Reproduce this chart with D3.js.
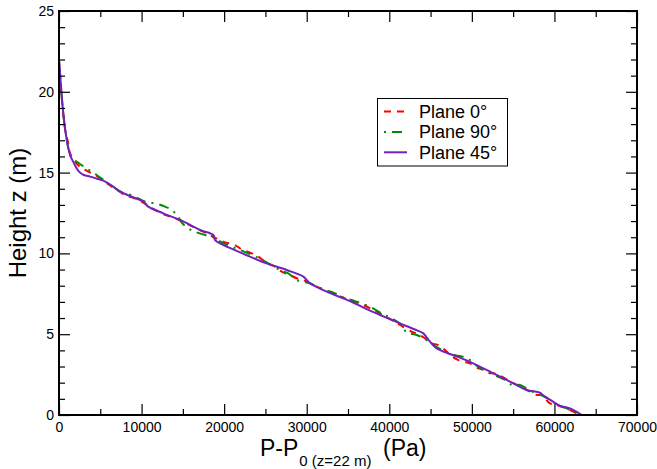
<!DOCTYPE html>
<html>
<head>
<meta charset="utf-8">
<script src="https://cdn.jsdelivr.net/npm/d3@7"></script>
<style>
  html, body { margin: 0; padding: 0; background: #fff; }
  svg { display: block; }
</style>
</head>
<body>
<svg id="chart" width="657" height="469"></svg>
<script>
// ---- data ----
const seriesNames = ["Plane 0\u00B0", "Plane 90\u00B0", "Plane 45\u00B0"];

// Plane 0° (red, dashed)
const p0 = [0, 363, 810, 1130, 1330, 1940, 2540, 3550, 4570, 5500, 6500, 7390, 8000, 9200, 10000, 11020, 11630, 12840, 14050, 16000, 18290, 19500, 20300, 21300, 22130, 23340, 24140, 24950, 26160, 26970, 27980, 28790, 29590, 30400, 30800, 32620, 34640, 36850, 38480, 40290, 41300, 42710, 43320, 44330, 45140, 45940, 46750, 47360, 48370, 49770, 50790, 51190, 52000, 53000, 54220, 55500, 56640, 57860, 58450, 59460, 60280, 61890, 62700, 63500];
const z0 = [22, 19.5, 17.45, 16.8, 16.2, 15.68, 15.36, 15.06, 14.79, 14.45, 14.1, 13.82, 13.6, 13.4, 13.2, 12.89, 12.69, 12.38, 12.17, 11.7, 11.14, 10.8, 10.66, 10.52, 10.25, 10.0, 9.8, 9.49, 9.18, 8.87, 8.66, 8.46, 8.35, 8.15, 8.04, 7.63, 7.22, 6.81, 6.39, 5.88, 5.57, 5.15, 5.05, 4.74, 4.44, 4.33, 4.02, 3.71, 3.40, 3.2, 2.89, 2.83, 2.62, 2.54, 2.2, 1.85, 1.55, 1.24, 1.24, 0.72, 0.62, 0.31, 0.1, 0];

// Plane 90° (green, dash-dot)
const p90 = [0, 363, 810, 1370, 1640, 2500, 3350, 4560, 5500, 6600, 7500, 8800, 9600, 10500, 11630, 12840, 13640, 14400, 14860, 15660, 16470, 17680, 18490, 18890, 20000, 22000, 24000, 25350, 26360, 27000, 27770, 28790, 30400, 31200, 32500, 33430, 34640, 35440, 37660, 39080, 40290, 41710, 42000, 42510, 43320, 44330, 45140, 46500, 48000, 48970, 49770, 50990, 51600, 52200, 53500, 54420, 54830, 55840, 56240, 57500, 58850, 59460, 60500, 61480, 62300, 63300];
const z90 = [22, 19.5, 17.45, 16.05, 15.88, 15.55, 15.26, 14.85, 14.5, 14.1, 13.8, 13.6, 13.4, 13.2, 13.1, 12.89, 12.69, 12.3, 11.9, 11.55, 11.34, 11.14, 11.03, 10.93, 10.6, 10.2, 9.75, 9.38, 9.08, 8.9, 8.77, 8.35, 8.15, 7.94, 7.7, 7.53, 7.22, 7.12, 6.7, 6.29, 5.98, 5.47, 5.15, 5.05, 4.95, 4.7, 4.4, 4.0, 3.7, 3.6, 3.4, 2.9, 2.78, 2.58, 2.3, 2.06, 1.86, 1.86, 1.75, 1.4, 1.13, 0.93, 0.6, 0.41, 0.2, 0];

// Plane 45° (purple, solid)
const p45 = [0, 150, 363, 600, 810, 1100, 1370, 1817, 2422, 3000, 3754, 4600, 5369, 6576, 7387, 9000, 10210, 10815, 12630, 14654, 17076, 18690, 18890, 19500, 21100, 23130, 25150, 27570, 29590, 30400, 32420, 35240, 37260, 38880, 41300, 43300, 44120, 44930, 45740, 46950, 48570, 50590, 52610, 55030, 56640, 58250, 58650, 59860, 60680, 61890, 63300];
const z45 = [22, 21, 19.5, 18.3, 17.45, 16.6, 16.05, 15.57, 15.06, 14.85, 14.75, 14.62, 14.5, 14.13, 13.82, 13.47, 13.2, 12.89, 12.48, 12.07, 11.45, 11.14, 10.83, 10.62, 10.25, 9.8, 9.38, 8.97, 8.56, 8.15, 7.63, 7.05, 6.55, 6.19, 5.67, 5.25, 5.05, 4.54, 4.12, 3.85, 3.55, 3.09, 2.58, 1.96, 1.55, 1.38, 1.2, 0.82, 0.56, 0.41, 0];

const xMajorTicks = [0, 10000, 20000, 30000, 40000, 50000, 60000, 70000];
const xMinorTicks = [5000, 15000, 25000, 35000, 45000, 55000, 65000];
const yMajorTicks = [0, 5, 10, 15, 20, 25];
const yMinorTicks = [1, 2, 3, 4, 6, 7, 8, 9, 11, 12, 13, 14, 16, 17, 18, 19, 21, 22, 23, 24];
const xDomain = [0, 70000];
const yDomain = [0, 25];

// ---- drawing ----
const FONT = '"Liberation Sans", Arial, sans-serif';
const svg = d3.select("#chart").style("font-family", FONT);
const L = 59, R = 637, T = 11, B = 415;
const x = d3.scaleLinear().domain(xDomain).range([L, R]);
const y = d3.scaleLinear().domain(yDomain).range([B, T]);

const series = [
  { name: seriesNames[0], p: p0, z: z0, color: "#ff0000", dash: "7,6" },
  { name: seriesNames[1], p: p90, z: z90, color: "#008b00", dash: "2,6,10,6" },
  { name: seriesNames[2], p: p45, z: z45, color: "#7221bc", dash: null }
];

const line = d3.line()
  .x(d => x(d[0]))
  .y(d => y(d[1]))
  .curve(d3.curveCatmullRom.alpha(0.5));

const plot = svg.append("g");
series.forEach(s => {
  const pts = s.p.map((v, i) => [v, s.z[i]]);
  plot.append("path")
    .datum(pts)
    .attr("d", line)
    .attr("fill", "none")
    .attr("stroke", s.color)
    .attr("stroke-width", 2)
    .attr("stroke-dasharray", s.dash)
    .attr("stroke-linejoin", "round");
});

// axes (ticks inward on all four sides)
function styleAxis(g) {
  g.attr("font-family", null).attr("font-size", null);
  g.select(".domain").remove();
  g.selectAll(".tick line").attr("stroke", "#000").attr("stroke-width", 1.2);
}
const fmt = d3.format("d");

svg.append("g").attr("transform", `translate(0,${B})`)
  .call(d3.axisBottom(x).tickValues(xMajorTicks).tickSize(-11).tickPadding(7).tickFormat(fmt))
  .call(styleAxis)
  .call(g => g.selectAll("text").style("font-size", "14px").attr("fill", "#000"));
svg.append("g").attr("transform", `translate(0,${B})`)
  .call(d3.axisBottom(x).tickValues(xMinorTicks).tickSize(-6).tickFormat(""))
  .call(styleAxis);
svg.append("g").attr("transform", `translate(0,${T})`)
  .call(d3.axisTop(x).tickValues(xMajorTicks).tickSize(-11).tickFormat(""))
  .call(styleAxis);
svg.append("g").attr("transform", `translate(0,${T})`)
  .call(d3.axisTop(x).tickValues(xMinorTicks).tickSize(-6).tickFormat(""))
  .call(styleAxis);

svg.append("g").attr("transform", `translate(${L},0)`)
  .call(d3.axisLeft(y).tickValues(yMajorTicks).tickSize(-11).tickPadding(5).tickFormat(fmt))
  .call(styleAxis)
  .call(g => g.selectAll("text").style("font-size", "14px").attr("fill", "#000"));
svg.append("g").attr("transform", `translate(${L},0)`)
  .call(d3.axisLeft(y).tickValues(yMinorTicks).tickSize(-6).tickFormat(""))
  .call(styleAxis);
svg.append("g").attr("transform", `translate(${R},0)`)
  .call(d3.axisRight(y).tickValues(yMajorTicks).tickSize(-11).tickFormat(""))
  .call(styleAxis);
svg.append("g").attr("transform", `translate(${R},0)`)
  .call(d3.axisRight(y).tickValues(yMinorTicks).tickSize(-6).tickFormat(""))
  .call(styleAxis);

// frame
svg.append("rect")
  .attr("x", L).attr("y", T).attr("width", R - L).attr("height", B - T)
  .attr("fill", "none").attr("stroke", "#000").attr("stroke-width", 2);

// axis titles
svg.append("text")
  .attr("transform", "translate(26,213) rotate(-90)")
  .attr("text-anchor", "middle")
  .style("font-size", "24px")
  .text("Height z (m)");

const xt = svg.append("text").attr("x", 260).attr("y", 456).style("font-size", "23px");
xt.append("tspan").text("P-P");
xt.append("tspan").style("font-size", "15px").attr("dy", 10).attr("dx", 1).text("0 (z=22 m)");
xt.append("tspan").attr("x", 383).attr("dy", -10).text("(Pa)");

// legend
const lg = svg.append("g");
lg.append("rect").attr("x", 377.5).attr("y", 98.5).attr("width", 130).attr("height", 67.5)
  .attr("fill", "#fff").attr("stroke", "#000").attr("stroke-width", 1);
series.forEach((s, i) => {
  const yy = 111.5 + i * 20.4;
  lg.append("line").attr("x1", 384).attr("x2", 407).attr("y1", yy).attr("y2", yy)
    .attr("stroke", s.color).attr("stroke-width", 2).attr("stroke-dasharray", s.dash);
  lg.append("text").attr("x", 419).attr("y", yy + 6.5).style("font-size", "18px").text(s.name);
});
</script>
</body>
</html>
